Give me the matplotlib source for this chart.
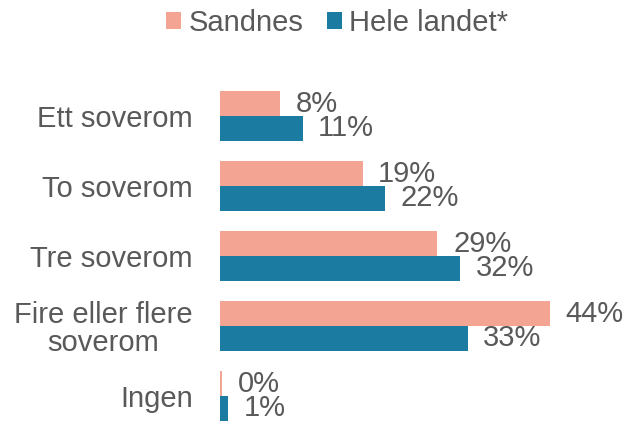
import numpy as np
import matplotlib.pyplot as plt

plt.rcParams['font.family'] = ['Liberation Sans', 'DejaVu Sans']

categories = ['Ett soverom', 'To soverom', 'Tre soverom', 'Fire eller flere\nsoverom', 'Ingen']
sandnes = [0.08, 0.19, 0.29, 0.44, 0.003]
hele_landet = [0.11, 0.22, 0.32, 0.33, 0.011]
series_names = ['Sandnes', 'Hele landet*']

c_sandnes = '#F4A492'
c_hele = '#1C7BA1'
txt = '#595959'
fs = 21

fig = plt.figure(figsize=(6.28, 4.21), dpi=100)
ax = fig.add_axes([220 / 628, 0.5 / 421, 405 / 628, 339.5 / 421])

y = np.arange(len(categories))
h = 0.357
b1 = ax.barh(y - h / 2, sandnes, height=h, color=c_sandnes, label=series_names[0])
b2 = ax.barh(y + h / 2, hele_landet, height=h, color=c_hele, label=series_names[1])

for vals, off in [(sandnes, -h / 2), (hele_landet, h / 2)]:
    for i, v in enumerate(vals):
        ax.text(v + 0.021, i + off, f'{round(v * 100):.0f}%', va='center', ha='left',
                fontsize=fs, color=txt)

ax.set_xlim(0, 0.54)
ax.set_ylim(4.35, -0.5)
ax.set_yticks(y)
ax.set_yticklabels(categories, fontsize=fs, color=txt, linespacing=1.0,
                   multialignment='center')
ax.tick_params(axis='y', length=0, pad=19.5)
ax.set_xticks([])
for s in ax.spines.values():
    s.set_visible(False)

fig.legend(handles=[b1, b2], loc='center', bbox_to_anchor=(0.537, 1 - 23 / 421), ncol=2,
           frameon=False, fontsize=fs, labelcolor=txt, handlelength=0.51, handleheight=0.51,
           handletextpad=0.25, columnspacing=0.8, borderpad=0)

fig.savefig('out.png', dpi=100)
